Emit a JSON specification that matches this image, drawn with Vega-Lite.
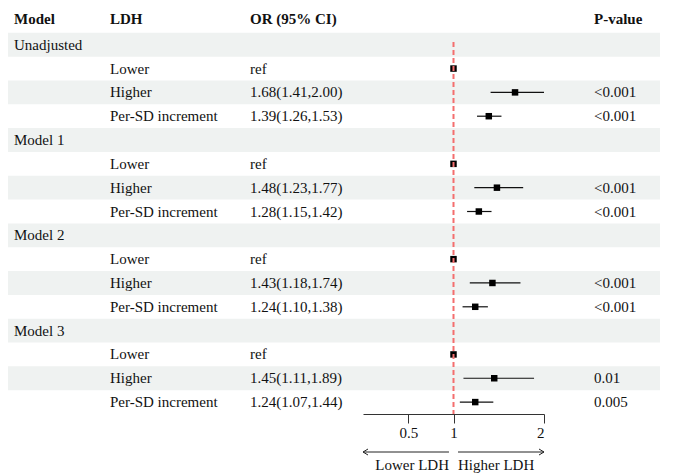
{
  "$schema": "https://vega.github.io/schema/vega-lite/v6.json",
  "padding": {"left": 8, "top": 9, "right": 0, "bottom": 0},
  "background": "white",
  "config": {
    "view": {"stroke": null},
    "font": "Liberation Serif",
    "text": {"font": "Liberation Serif", "fontSize": 15, "color": "#111"}
  },
  "datasets": {
    "rows": [
      {"row": 0, "model": "Unadjusted"},
      {"row": 1, "ldh": "Lower", "orci": "ref", "or": 1},
      {"row": 2, "ldh": "Higher", "orci": "1.68(1.41,2.00)", "or": 1.68, "lo": 1.41, "hi": 2.0, "p": "<0.001"},
      {"row": 3, "ldh": "Per-SD increment", "orci": "1.39(1.26,1.53)", "or": 1.39, "lo": 1.26, "hi": 1.53, "p": "<0.001"},
      {"row": 4, "model": "Model 1"},
      {"row": 5, "ldh": "Lower", "orci": "ref", "or": 1},
      {"row": 6, "ldh": "Higher", "orci": "1.48(1.23,1.77)", "or": 1.48, "lo": 1.23, "hi": 1.77, "p": "<0.001"},
      {"row": 7, "ldh": "Per-SD increment", "orci": "1.28(1.15,1.42)", "or": 1.28, "lo": 1.15, "hi": 1.42, "p": "<0.001"},
      {"row": 8, "model": "Model 2"},
      {"row": 9, "ldh": "Lower", "orci": "ref", "or": 1},
      {"row": 10, "ldh": "Higher", "orci": "1.43(1.18,1.74)", "or": 1.43, "lo": 1.18, "hi": 1.74, "p": "<0.001"},
      {"row": 11, "ldh": "Per-SD increment", "orci": "1.24(1.10,1.38)", "or": 1.24, "lo": 1.10, "hi": 1.38, "p": "<0.001"},
      {"row": 12, "model": "Model 3"},
      {"row": 13, "ldh": "Lower", "orci": "ref", "or": 1},
      {"row": 14, "ldh": "Higher", "orci": "1.45(1.11,1.89)", "or": 1.45, "lo": 1.11, "hi": 1.89, "p": "0.01"},
      {"row": 15, "ldh": "Per-SD increment", "orci": "1.24(1.07,1.44)", "or": 1.24, "lo": 1.07, "hi": 1.44, "p": "0.005"}
    ],
    "header": [{"model": "Model", "ldh": "LDH", "orci": "OR (95% CI)", "p": "P-value"}],
    "arrows": [
      {"label": "Lower LDH", "from": 0, "to": 0.95},
      {"label": "Higher LDH", "from": 1.05, "to": 2}
    ]
  },
  "spacing": 2,
  "vconcat": [
    {
      "bounds": "flush",
      "spacing": 0,
      "hconcat": [
        {
          "width": 96, "height": 405,
          "layer": [
            {"data": {"name": "rows"}, "transform": [{"filter": "datum.row % 2 == 0"}], "mark": {"type": "rect", "color": "#eff2f1"},
             "encoding": {"y": {"field": "row", "type": "ordinal", "axis": null, "scale": {"type": "band", "domain": [-1,0,1,2,3,4,5,6,7,8,9,10,11,12,13,14,15], "paddingInner": 0, "paddingOuter": 0}}}},
            {"data": {"name": "rows"}, "transform": [{"filter": "isValid(datum.model)"}], "mark": {"type": "text", "align": "left", "baseline": "middle", "dx": 6},
             "encoding": {"x": {"value": 0}, "y": {"field": "row", "type": "ordinal", "axis": null}, "text": {"field": "model"}}},
            {"data": {"name": "header"}, "mark": {"type": "text", "align": "left", "baseline": "middle", "dx": 6, "dy": -2, "fontWeight": "bold"},
             "encoding": {"x": {"value": 0}, "y": {"datum": -1, "type": "ordinal", "axis": null}, "text": {"field": "model"}}}
          ]
        },
        {
          "width": 140, "height": 405,
          "layer": [
            {"data": {"name": "rows"}, "transform": [{"filter": "datum.row % 2 == 0"}], "mark": {"type": "rect", "color": "#eff2f1"},
             "encoding": {"y": {"field": "row", "type": "ordinal", "axis": null, "scale": {"type": "band", "domain": [-1,0,1,2,3,4,5,6,7,8,9,10,11,12,13,14,15], "paddingInner": 0, "paddingOuter": 0}}}},
            {"data": {"name": "rows"}, "transform": [{"filter": "isValid(datum.ldh)"}], "mark": {"type": "text", "align": "left", "baseline": "middle", "dx": 6},
             "encoding": {"x": {"value": 0}, "y": {"field": "row", "type": "ordinal", "axis": null}, "text": {"field": "ldh"}}},
            {"data": {"name": "header"}, "mark": {"type": "text", "align": "left", "baseline": "middle", "dx": 6, "dy": -2, "fontWeight": "bold"},
             "encoding": {"x": {"value": 0}, "y": {"datum": -1, "type": "ordinal", "axis": null}, "text": {"field": "ldh"}}}
          ]
        },
        {
          "width": 119, "height": 405,
          "layer": [
            {"data": {"name": "rows"}, "transform": [{"filter": "datum.row % 2 == 0"}], "mark": {"type": "rect", "color": "#eff2f1"},
             "encoding": {"y": {"field": "row", "type": "ordinal", "axis": null, "scale": {"type": "band", "domain": [-1,0,1,2,3,4,5,6,7,8,9,10,11,12,13,14,15], "paddingInner": 0, "paddingOuter": 0}}}},
            {"data": {"name": "rows"}, "transform": [{"filter": "isValid(datum.orci)"}], "mark": {"type": "text", "align": "left", "baseline": "middle", "dx": 6},
             "encoding": {"x": {"value": 0}, "y": {"field": "row", "type": "ordinal", "axis": null}, "text": {"field": "orci"}}},
            {"data": {"name": "header"}, "mark": {"type": "text", "align": "left", "baseline": "middle", "dx": 6, "dy": -2, "fontWeight": "bold"},
             "encoding": {"x": {"value": 0}, "y": {"datum": -1, "type": "ordinal", "axis": null}, "text": {"field": "orci"}}}
          ]
        },
        {
          "width": 181, "height": 405,
          "layer": [
            {"data": {"name": "rows"}, "transform": [{"filter": "datum.row % 2 == 0"}], "mark": {"type": "rect", "color": "#eff2f1"},
             "encoding": {"y": {"field": "row", "type": "ordinal", "axis": null, "scale": {"type": "band", "domain": [-1,0,1,2,3,4,5,6,7,8,9,10,11,12,13,14,15], "paddingInner": 0, "paddingOuter": 0}}}},
            {"data": {"name": "rows"}, "transform": [{"filter": "isValid(datum.lo)"}], "mark": {"type": "rule", "color": "#111", "strokeWidth": 1.2},
             "encoding": {
               "x": {"field": "lo", "type": "quantitative", "title": null, "scale": {"domain": [0, 2], "nice": false, "zero": false},
                     "axis": {"values": [0.5, 1, 2], "format": "~g", "grid": false, "title": null, "domainColor": "#333", "tickColor": "#333", "tickSize": 9, "labelFont": "Liberation Serif", "labelFontSize": 15, "labelColor": "#111", "labelPadding": 2}},
               "x2": {"field": "hi"},
               "y": {"field": "row", "type": "ordinal", "axis": null}}},
            {"data": {"name": "rows"}, "transform": [{"filter": "isValid(datum.or)"}], "mark": {"type": "square", "size": 42, "color": "#000", "opacity": 1},
             "encoding": {
               "x": {"field": "or", "type": "quantitative", "title": null},
               "y": {"field": "row", "type": "ordinal", "axis": null}}},
            {"data": {"name": "header"}, "mark": {"type": "rule", "color": "#f46e6e", "strokeWidth": 2, "strokeDash": [5, 3]},
             "encoding": {
               "x": {"datum": 1, "type": "quantitative", "title": null},
               "y": {"datum": 0, "type": "ordinal", "bandPosition": 0.38, "axis": null},
               "y2": {"value": "height"}}}
          ]
        },
        {
          "width": 116, "height": 405,
          "layer": [
            {"data": {"name": "rows"}, "transform": [{"filter": "datum.row % 2 == 0"}], "mark": {"type": "rect", "color": "#eff2f1"},
             "encoding": {"y": {"field": "row", "type": "ordinal", "axis": null, "scale": {"type": "band", "domain": [-1,0,1,2,3,4,5,6,7,8,9,10,11,12,13,14,15], "paddingInner": 0, "paddingOuter": 0}}}},
            {"data": {"name": "rows"}, "transform": [{"filter": "isValid(datum.p)"}], "mark": {"type": "text", "align": "left", "baseline": "middle", "dx": 50},
             "encoding": {"x": {"value": 0}, "y": {"field": "row", "type": "ordinal", "axis": null}, "text": {"field": "p"}}},
            {"data": {"name": "header"}, "mark": {"type": "text", "align": "left", "baseline": "middle", "dx": 50, "dy": -2, "fontWeight": "bold"},
             "encoding": {"x": {"value": 0}, "y": {"datum": -1, "type": "ordinal", "axis": null}, "text": {"field": "p"}}}
          ]
        }
      ]
    },
    {
      "bounds": "flush",
      "spacing": 0,
      "hconcat": [
        {"width": 355, "height": 20, "data": {"values": []}, "mark": {"type": "point", "opacity": 0}},
        {
          "width": 181, "height": 20,
          "data": {"name": "arrows"},
          "layer": [
            {"mark": {"type": "rule", "color": "#222", "strokeWidth": 1},
             "encoding": {"x": {"field": "from", "type": "quantitative", "axis": null, "scale": {"domain": [0, 2], "nice": false, "zero": false}}, "x2": {"field": "to"}}},
            {"transform": [{"filter": "datum.label == 'Lower LDH'"}],
             "mark": {"type": "point", "shape": "M0,0L2,-1.2M0,0L2,1.2", "filled": false, "color": "#222", "strokeWidth": 1, "size": 25, "opacity": 1},
             "encoding": {"x": {"field": "from", "type": "quantitative", "axis": null}}},
            {"transform": [{"filter": "datum.label == 'Higher LDH'"}],
             "mark": {"type": "point", "shape": "M0,0L-2,-1.2M0,0L-2,1.2", "filled": false, "color": "#222", "strokeWidth": 1, "size": 25, "opacity": 1},
             "encoding": {"x": {"field": "to", "type": "quantitative", "axis": null}}},
            {"transform": [{"filter": "datum.label == 'Lower LDH'"}],
             "mark": {"type": "text", "align": "right", "baseline": "top", "dy": 6},
             "encoding": {"x": {"field": "to", "type": "quantitative", "axis": null}, "text": {"field": "label"}}},
            {"transform": [{"filter": "datum.label == 'Higher LDH'"}],
             "mark": {"type": "text", "align": "left", "baseline": "top", "dy": 6},
             "encoding": {"x": {"field": "from", "type": "quantitative", "axis": null}, "text": {"field": "label"}}}
          ]
        }
      ]
    }
  ]
}
